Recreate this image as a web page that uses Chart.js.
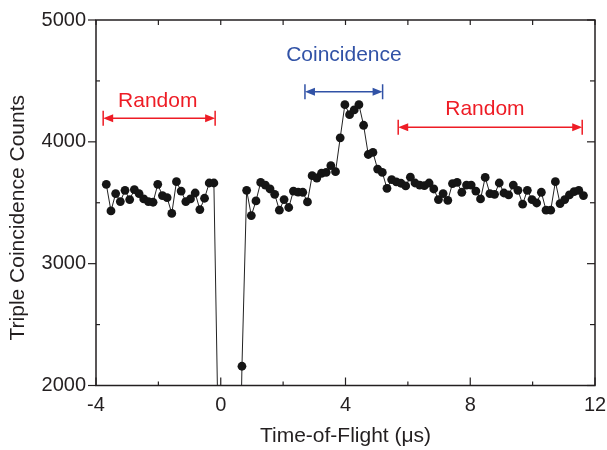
<!DOCTYPE html>
<html>
<head>
<meta charset="utf-8">
<title>Triple coincidence counts vs time-of-flight</title>
<script src="https://cdn.jsdelivr.net/npm/chart.js@4"></script>
<style>
    html, body { margin:0; padding:0; background:#fff; }
    #wrap { width:607px; height:450px; }
</style>
</head>
<body>
<div id="wrap"><canvas id="tofChart"></canvas></div>
<script>
// time-of-flight bins (µs)
var tofTimes = [
    -3.67, -3.52, -3.37, -3.22, -3.07, -2.92, -2.77, -2.62, -2.47, -2.32,
    -2.17, -2.02, -1.87, -1.72, -1.57, -1.42, -1.27, -1.12, -0.97, -0.82,
    -0.67, -0.52, -0.37, -0.22, -0.07, 0.08, 0.23, 0.38, 0.53, 0.68,
    0.83, 0.98, 1.13, 1.28, 1.43, 1.58, 1.73, 1.88, 2.03, 2.18,
    2.33, 2.48, 2.63, 2.78, 2.93, 3.08, 3.23, 3.38, 3.53, 3.68,
    3.83, 3.98, 4.13, 4.28, 4.43, 4.58, 4.73, 4.88, 5.03, 5.18,
    5.33, 5.48, 5.63, 5.78, 5.93, 6.08, 6.23, 6.38, 6.53, 6.68,
    6.83, 6.98, 7.13, 7.28, 7.43, 7.58, 7.73, 7.88, 8.03, 8.18,
    8.33, 8.48, 8.63, 8.78, 8.93, 9.08, 9.23, 9.38, 9.53, 9.68,
    9.83, 9.98, 10.13, 10.28, 10.43, 10.58, 10.73, 10.88, 11.03, 11.18,
    11.33, 11.48, 11.63
];
// triple coincidence counts per bin
var tripleCounts = [
    3651, 3433, 3575, 3510, 3602, 3526, 3608, 3575, 3531, 3510,
    3504, 3651, 3559, 3542, 3412, 3673, 3596, 3510, 3531, 3580,
    3444, 3537, 3662, 3662, 1430, 120, 40, 30, 20, 2158,
    3602, 3395, 3515, 3667, 3645, 3613, 3569, 3439, 3526, 3461,
    3596, 3588, 3586, 3507, 3722, 3703, 3742, 3750, 3804, 3755,
    4033, 4305, 4223, 4262, 4305, 4136, 3896, 3913, 3776, 3749,
    3618, 3690, 3672, 3660, 3638, 3710, 3662, 3645, 3640, 3662,
    3613, 3526, 3575, 3520, 3657, 3667, 3586, 3645, 3645, 3596,
    3531, 3708, 3575, 3569, 3662, 3580, 3564, 3645, 3602, 3488,
    3602, 3526, 3498, 3586, 3439, 3439, 3673, 3493, 3526, 3564,
    3591, 3602, 3559
];
var xMajorTicks = [-4, 0, 4, 8, 12];
var xMinorTicks = [-2, 2, 6, 10];
var yMajorTicks = [2000, 3000, 4000, 5000];
var yMinorTicks = [2500, 3500, 4500];

// range markers drawn over the plot
var rangeMarks = [
    { text:'Random',      from:-3.77, to:-0.18, level:4194, labelX:-2.02, labelY:4336, color:'#ee1c25' },
    { text:'Coincidence', from:2.70,  to:5.19,  level:4412, labelX:3.95,  labelY:4709, color:'#3152a6' },
    { text:'Random',      from:5.69,  to:11.59, level:4120, labelX:8.47,  labelY:4266, color:'#ee1c25' }
];

var FONT = "'Liberation Sans', Arial, sans-serif";
var INK = '#231f20';

var framePlugin = {
    id:'frame',
    afterDraw:(chart)=>{
        var ctx = chart.ctx, a = chart.chartArea;
        var xs = chart.scales.x, ys = chart.scales.y;
        var line = (x1, y1, x2, y2)=>{
            ctx.beginPath(); ctx.moveTo(x1, y1); ctx.lineTo(x2, y2); ctx.stroke();
        };
        ctx.save();
        ctx.strokeStyle = INK;
        ctx.lineWidth = 1.5;
        ctx.strokeRect(a.left, a.top, a.right - a.left, a.bottom - a.top);
        ctx.lineWidth = 1.2;
        // bottom + top
        xMajorTicks.forEach(v=>{
            var px = xs.getPixelForValue(v);
            line(px, a.bottom, px, a.bottom - 8);
            line(px, a.top, px, a.top + 5);
        });
        xMinorTicks.forEach(v=>{
            var px = xs.getPixelForValue(v);
            line(px, a.bottom, px, a.bottom - 4);
            line(px, a.top, px, a.top + 5);
        });
        // left (major out, minor in) + right (in)
        yMajorTicks.forEach(v=>{
            var py = ys.getPixelForValue(v);
            line(a.left - 8, py, a.left, py);
            line(a.right, py, a.right - 8, py);
        });
        yMinorTicks.forEach(v=>{
            var py = ys.getPixelForValue(v);
            line(a.left, py, a.left + 4, py);
            line(a.right, py, a.right - 5, py);
        });
        // y axis title, sits a little below the plot's middle
        ctx.translate(18, (a.top + a.bottom) / 2 + 15);
        ctx.rotate(-Math.PI / 2);
        ctx.fillStyle = INK;
        ctx.font = '21px ' + FONT;
        ctx.textAlign = 'center';
        ctx.textBaseline = 'middle';
        ctx.fillText('Triple Coincidence Counts', 0, 0);
        ctx.restore();
    }
};

var rangePlugin = {
    id:'ranges',
    afterDatasetsDraw:(chart)=>{
        var ctx = chart.ctx;
        var xs = chart.scales.x, ys = chart.scales.y;
        ctx.save();
        rangeMarks.forEach(m=>{
            var x1 = xs.getPixelForValue(m.from), x2 = xs.getPixelForValue(m.to);
            var y = ys.getPixelForValue(m.level);
            var head = 10, half = 4, bar = 7.5;
            ctx.strokeStyle = m.color;
            ctx.fillStyle = m.color;
            ctx.lineWidth = 1.5;
            ctx.beginPath();
            ctx.moveTo(x1 + head - 1, y); ctx.lineTo(x2 - head + 1, y);
            ctx.moveTo(x1, y - bar); ctx.lineTo(x1, y + bar);
            ctx.moveTo(x2, y - bar); ctx.lineTo(x2, y + bar);
            ctx.stroke();
            ctx.beginPath();
            ctx.moveTo(x1, y); ctx.lineTo(x1 + head, y - half); ctx.lineTo(x1 + head, y + half); ctx.closePath();
            ctx.moveTo(x2, y); ctx.lineTo(x2 - head, y - half); ctx.lineTo(x2 - head, y + half); ctx.closePath();
            ctx.fill();
            ctx.font = '21px ' + FONT;
            ctx.textAlign = 'center';
            ctx.textBaseline = 'middle';
            ctx.fillText(m.text, xs.getPixelForValue(m.labelX), ys.getPixelForValue(m.labelY));
        });
        ctx.restore();
    }
};

var ctxEl = document.getElementById('tofChart');
new Chart(ctxEl, {
    type:'line',
    data:{
        datasets:[{
            label:'Triple coincidence counts',
            data:tofTimes.map((t, i)=>({ x:t, y:tripleCounts[i] })),
            borderColor:'#222',
            borderWidth:1,
            backgroundColor:'#151515',
            pointBackgroundColor:'#151515',
            pointBorderWidth:0,
            pointRadius:4.4,
            tension:0
        }]
    },
    options:{
        responsive:true,
        maintainAspectRatio:false,
        animation:false,
        layout:{ padding:{ top:20, right:12, left:0, bottom:0 } },
        scales:{
            x:{
                type:'linear',
                min:-4, max:12,
                afterFit:(s)=>{ s.height = 64.5; s.paddingLeft = 0; s.paddingRight = 0; },
                afterBuildTicks:(s)=>{ s.ticks = xMajorTicks.map(v=>({ value:v })); },
                grid:{ display:false, drawTicks:false },
                border:{ display:false },
                ticks:{ padding:8, color:INK, font:{ family:FONT, size:20 } },
                title:{
                    display:true,
                    text:'Time-of-Flight (\u03bcs)',
                    color:INK,
                    padding:{ top:0, bottom:1 },
                    font:{ family:FONT, size:21 }
                }
            },
            y:{
                min:2000, max:5000,
                afterFit:(s)=>{ s.width = 96; s.paddingTop = 0; s.paddingBottom = 0; },
                afterBuildTicks:(s)=>{ s.ticks = yMajorTicks.map(v=>({ value:v })); },
                grid:{ display:false, drawTicks:false },
                border:{ display:false },
                ticks:{
                    padding:10, color:INK, font:{ family:FONT, size:20 },
                    callback:(v)=>String(v)
                },
                title:{ display:false }
            }
        },
        plugins:{
            legend:{ display:false },
            tooltip:{ enabled:false }
        }
    },
    plugins:[framePlugin, rangePlugin]
});
</script>
</body>
</html>
